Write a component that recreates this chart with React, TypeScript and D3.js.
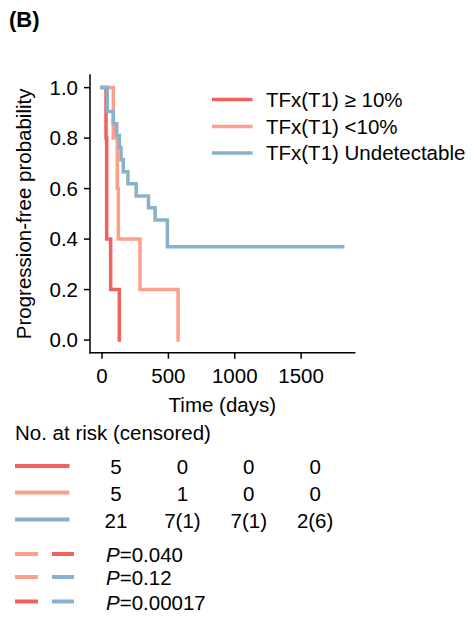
import React from 'react';
import * as d3 from 'd3';

// Kaplan-Meier step data (days, survival)
const groupNames = ['TFx(T1) \u2265 10%', 'TFx(T1) <10%', 'TFx(T1) Undetectable'];
const groupColors = ['#f1625e', '#fca08b', '#8ab1ca'];

const highTimes = [0, 30, 35, 65, 130];
const highSurv = [1, 0.8, 0.4, 0.2, 0];

const lowTimes = [0, 85, 115, 123, 286, 573];
const lowSurv = [1, 0.8, 0.6, 0.4, 0.2, 0];

const undetTimes = [0, 40, 85, 111, 131, 143, 160, 195, 257, 350, 400, 492, 1813];
const undetSurv = [1, 0.905, 0.857, 0.81, 0.762, 0.714, 0.667, 0.619, 0.571, 0.524, 0.476, 0.37, 0.37];

const xTicks = [0, 500, 1000, 1500];
const yTicks = [0, 0.2, 0.4, 0.6, 0.8, 1.0];

// number at risk table
const riskTimes = [0, 500, 1000, 1500];
const riskHigh = ['5', '0', '0', '0'];
const riskLow = ['5', '1', '0', '0'];
const riskUndet = ['21', '7(1)', '7(1)', '2(6)'];

// pairwise log-rank tests
const pPairs = [[1, 0], [1, 2], [0, 2]];
const pValues = ['0.040', '0.12', '0.00017'];

const FONT = '"Liberation Sans", Arial, sans-serif';
const FS = 20.5;

const App = () => {
  const left = 90, right = 354.7, top = 75, bottom = 352.7;
  const x = d3.scaleLinear().domain([-90.6, 1903.6]).range([left, right]);
  const y = d3.scaleLinear().domain([-0.05, 1.05]).range([bottom, top]);

  const line = d3.line<[number, number]>()
    .x(d => x(d[0]))
    .y(d => y(d[1]))
    .curve(d3.curveStepAfter);

  const series = [
    d3.zip(highTimes, highSurv) as [number, number][],
    d3.zip(lowTimes, lowSurv) as [number, number][],
    d3.zip(undetTimes, undetSurv) as [number, number][],
  ];
  const riskRows = [riskHigh, riskLow, riskUndet];

  const legendY = [99.5, 126.5, 153];
  const riskY = [466, 492.5, 519.5];
  const pY = [554, 577, 601.5];

  return (
    <svg width={472} height={618} style={{ position: 'absolute', left: 0, top: 0, background: '#fff' }}
      fontFamily={FONT} fontSize={FS}>
      <text x={9} y={27} fontWeight="bold" fontSize={22}>(B)</text>

      {series.map((s, i) => (
        <path key={i} d={line(s) || ''} fill="none" stroke={groupColors[i]}
          strokeWidth={3.5} strokeLinecap="square" />
      ))}

      {/* axes */}
      <line x1={left} x2={left} y1={top} y2={bottom} stroke="#000" strokeWidth={1.5} strokeLinecap="square" />
      <line x1={left} x2={right} y1={bottom} y2={bottom} stroke="#000" strokeWidth={1.5} strokeLinecap="square" />
      {yTicks.map(t => (
        <g key={t}>
          <line x1={left - 6} x2={left} y1={y(t)} y2={y(t)} stroke="#000" strokeWidth={1.5} />
          <text x={left - 12} y={y(t)} dy="0.36em" textAnchor="end">{t.toFixed(1)}</text>
        </g>
      ))}
      {xTicks.map(t => (
        <g key={t}>
          <line x1={x(t)} x2={x(t)} y1={bottom} y2={bottom + 6} stroke="#000" strokeWidth={1.5} />
          <text x={x(t)} y={376} dy="0.36em" textAnchor="middle">{t}</text>
        </g>
      ))}
      <text x={(left + right) / 2} y={405} dy="0.36em" textAnchor="middle">Time (days)</text>
      <text transform={`translate(24,${(top + bottom) / 2}) rotate(-90)`} dy="0.36em" textAnchor="middle">
        Progression-free probability
      </text>

      {/* legend */}
      {groupNames.map((n, i) => (
        <g key={n}>
          <line x1={212} x2={252.5} y1={legendY[i]} y2={legendY[i]} stroke={groupColors[i]} strokeWidth={3.5} />
          <text x={266} y={legendY[i]} dy="0.36em">{n}</text>
        </g>
      ))}

      {/* risk table */}
      <text x={15} y={433} dy="0.36em">No. at risk (censored)</text>
      {riskRows.map((row, i) => (
        <g key={i}>
          <line x1={15} x2={69.5} y1={riskY[i]} y2={riskY[i]} stroke={groupColors[i]} strokeWidth={4} />
          {row.map((v, j) => (
            <text key={j} x={x(riskTimes[j]) + 14} y={riskY[i] + 1} dy="0.36em" textAnchor="middle">{v}</text>
          ))}
        </g>
      ))}

      {/* p-values */}
      {pPairs.map((pr, i) => (
        <g key={i}>
          <line x1={15} x2={38} y1={pY[i]} y2={pY[i]} stroke={groupColors[pr[0]]} strokeWidth={4} />
          <line x1={52} x2={74} y1={pY[i]} y2={pY[i]} stroke={groupColors[pr[1]]} strokeWidth={4} />
          <text x={106} y={pY[i] + 1} dy="0.36em">
            <tspan fontStyle="italic">P</tspan>={pValues[i]}
          </text>
        </g>
      ))}
    </svg>
  );
};

export default App;
